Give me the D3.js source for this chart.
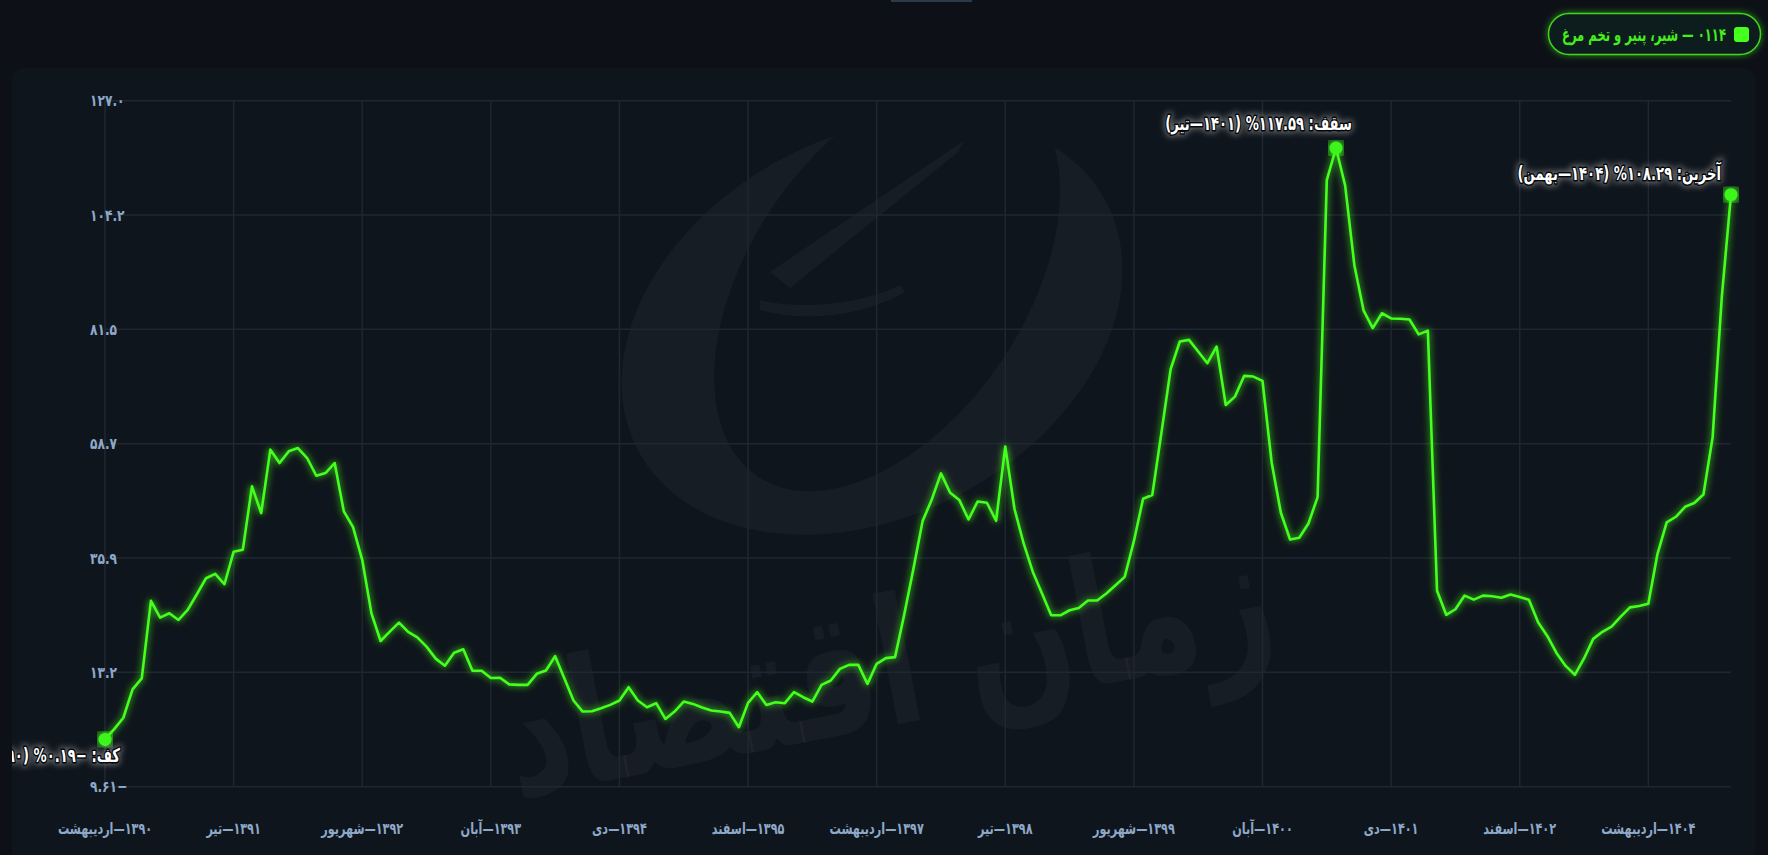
<!DOCTYPE html>
<html lang="fa">
<head>
<meta charset="utf-8">
<script src="https://cdn.jsdelivr.net/npm/d3@7/dist/d3.min.js"></script>
<style>
html, body { margin: 0; padding: 0; background: #0d1117; overflow: hidden; }
svg { display: block; }
text { font-family: "DejaVu Sans Condensed", "DejaVu Sans", sans-serif; font-weight: bold; }
</style>
</head>
<body>
<svg id="chart" width="1768" height="855"></svg>
<script>
// series: 0114 - milk, cheese & eggs, monthly from 1390-Ordibehesht to 1404-Bahman
var seriesName = "۰۱۱۴ — شیر، پنیر و تخم مرغ";
var startYear = 1390, startMonth = 2;
var monthNames = ["فروردین","اردیبهشت","خرداد","تیر","مرداد","شهریور","مهر","آبان","آذر","دی","بهمن","اسفند"];

var values = [
  -0.19, 1.86, 4.12, 9.77, 11.96, 27.39, 24.06, 24.93, 23.60, 25.59,
  28.72, 31.91, 32.77, 30.71, 37.16, 37.56, 50.20, 44.88, 57.51, 54.85,
  57.18, 57.84, 55.85, 52.32, 52.85, 54.85, 45.21, 42.08, 35.57, 24.93,
  19.41, 21.27, 23.07, 21.21, 20.14, 18.28, 15.89, 14.49, 17.08, 17.75,
  13.49, 13.49, 12.03, 12.10, 10.77, 10.67, 10.67, 12.87, 13.53, 16.39,
  12.00, 7.55, 5.35, 5.42, 6.02, 6.68, 7.55, 10.21, 7.55, 6.22,
  7.02, 3.89, 5.35, 7.35, 6.88, 6.15, 5.55, 5.35, 5.09, 2.23,
  7.08, 9.21, 6.68, 7.22, 7.02, 9.21, 8.21, 7.35, 10.67, 11.54,
  13.86, 14.66, 14.66, 10.87, 14.86, 15.99, 16.19, 24.66, 33.77, 43.28,
  47.60, 52.79, 48.93, 47.47, 43.61, 47.20, 46.94, 43.35, 58.11, 45.74,
  38.83, 33.17, 28.85, 24.53, 24.53, 25.53, 25.99, 27.46, 27.46, 28.85,
  30.51, 32.18, 39.29, 47.74, 48.47, 60.90, 73.53, 79.05, 79.38, 77.06,
  74.73, 78.05, 66.42, 68.08, 72.20, 72.07, 71.21, 54.92, 44.94, 39.62,
  39.96, 42.81, 48.07, 111.20, 117.59, 110.10, 94.26, 85.27, 81.73, 84.68,
  83.65, 83.57, 83.43, 80.48, 81.22, 29.41, 24.62, 25.73, 28.45, 27.64,
  28.45, 28.31, 28.01, 28.68, 28.16, 27.64, 23.15, 20.42, 17.03, 14.45,
  12.68, 15.93, 19.83, 21.23, 22.26, 24.25, 26.10, 26.39, 26.83, 36.78,
  43.05, 44.15, 46.14, 46.88, 48.57, 60.00, 88.00, 108.29
];

var xTickIdx = [0, 14, 28, 42, 56, 70, 84, 98, 112, 126, 140, 154, 168];
var xTickLabels = ["۱۳۹۰—اردیبهشت","۱۳۹۱—تیر","۱۳۹۲—شهریور","۱۳۹۳—آبان","۱۳۹۴—دی","۱۳۹۵—اسفند",
  "۱۳۹۷—اردیبهشت","۱۳۹۸—تیر","۱۳۹۹—شهریور","۱۴۰۰—آبان","۱۴۰۱—دی","۱۴۰۲—اسفند","۱۴۰۴—اردیبهشت"];
var yTickLabels = ["۹.۶۱−","۱۳.۲","۳۵.۹","۵۸.۷","۸۱.۵","۱۰۴.۲","۱۲۷.۰"];

var fa = s => String(s).replace(/\d/g, d => "۰۱۲۳۴۵۶۷۸۹"[d]);
function period(i){
  var m = startMonth - 1 + i;
  return fa(startYear + Math.floor(m / 12)) + "—" + monthNames[m % 12];
}
// the reference font is narrower than DejaVu, squeeze texts a bit
function squeeze(sel, k){
  sel.each(function(){
    var w = this.getComputedTextLength();
    d3.select(this).attr("textLength", w * k).attr("lengthAdjust", "spacingAndGlyphs");
  });
}

var svg = d3.select("#chart");
var green = "#45ff1c";

var defs = svg.append("defs");
var glow = defs.append("filter").attr("id", "glow")
  .attr("x", "-10%").attr("y", "-10%").attr("width", "120%").attr("height", "120%");
glow.append("feGaussianBlur").attr("in", "SourceGraphic").attr("stdDeviation", 3.5).attr("result", "b");
var gm = glow.append("feMerge");
gm.append("feMergeNode").attr("in", "b");
gm.append("feMergeNode").attr("in", "SourceGraphic");

var soft = defs.append("filter").attr("id", "soft")
  .attr("x", "-20%").attr("y", "-50%").attr("width", "140%").attr("height", "200%");
soft.append("feGaussianBlur").attr("stdDeviation", 3);

var pillGlow = defs.append("filter").attr("id", "pillglow")
  .attr("x", "-20%").attr("y", "-50%").attr("width", "140%").attr("height", "200%");
pillGlow.append("feGaussianBlur").attr("in", "SourceGraphic").attr("stdDeviation", 3).attr("result", "b");
var pm = pillGlow.append("feMerge");
pm.append("feMergeNode").attr("in", "b");
pm.append("feMergeNode").attr("in", "SourceGraphic");

var mask = defs.append("mask").attr("id", "cres");
mask.append("rect").attr("x", 0).attr("y", 0).attr("width", 1768).attr("height", 855).attr("fill", "white");
mask.append("ellipse").attr("cx", 905).attr("cy", 296).attr("rx", 232).attr("ry", 138)
  .attr("transform", "rotate(-28 905 296)").attr("fill", "black");

defs.append("clipPath").attr("id", "panelclip")
  .append("rect").attr("x", 12).attr("y", 60).attr("width", 1745).attr("height", 800);

// page + panel
svg.append("rect").attr("width", 1768).attr("height", 855).attr("fill", "#0d1117");
svg.append("rect").attr("x", 891).attr("y", 0).attr("width", 81).attr("height", 2).attr("fill", "#2b3a4b");
svg.append("rect").attr("x", 12).attr("y", 68).attr("width", 1743).attr("height", 820)
  .attr("rx", 12).attr("fill", "#0f151c");

// watermark
var wm = svg.append("g").attr("fill", "#ffffff").attr("fill-opacity", 0.035);
wm.append("ellipse").attr("cx", 872).attr("cy", 326).attr("rx", 265).attr("ry", 190)
  .attr("transform", "rotate(-28 872 326)").attr("mask", "url(#cres)");
wm.append("path").attr("d", "M770,272 L965,140 L958,152 L790,288 Z");
wm.append("path").attr("d", "M760,300 C800,310 860,305 900,285 L905,292 C860,318 800,322 760,310 Z");
wm.append("text").attr("x", 890).attr("y", 725).attr("text-anchor", "middle")
  .attr("direction", "rtl").attr("font-size", 175)
  .attr("textLength", 780).attr("lengthAdjust", "spacingAndGlyphs")
  .attr("transform", "rotate(-11 890 680)")
  .text("زمان اقتصاد");

// scales
var n = values.length;
var yMin = d3.min(values), yMax = d3.max(values);
var pad = (yMax - yMin) * 0.08;
var x = d3.scaleLinear().domain([0, n - 1]).range([105, 1731]);
var y = d3.scaleLinear().domain([yMin - pad, yMax + pad]).range([786.7, 100.7]);
var yTicks = d3.range(7).map(i => y.domain()[0] + i * (y.domain()[1] - y.domain()[0]) / 6);

// grid
var grid = svg.append("g").attr("stroke", "#1f2731").attr("stroke-width", 1.5);
grid.selectAll(".hg").data(yTicks).enter().append("line")
  .attr("x1", 105).attr("x2", 1731)
  .attr("y1", d => y(d)).attr("y2", d => y(d));
grid.selectAll(".vg").data(xTickIdx).enter().append("line")
  .attr("x1", d => x(d)).attr("x2", d => x(d))
  .attr("y1", y.range()[1]).attr("y2", y.range()[0]);

// y tick labels
var yl = svg.append("g").selectAll("text").data(yTicks).enter().append("text")
  .attr("x", 90).attr("y", d => y(d)).attr("dy", "0.35em")
  .attr("fill", "#8ea8c8").attr("font-size", 16)
  .text((d, i) => yTickLabels[i]);
squeeze(yl, 0.85);

// x tick labels
var xl = svg.append("g").selectAll("text").data(xTickIdx).enter().append("text")
  .attr("x", d => x(d)).attr("y", 834)
  .attr("text-anchor", "middle").attr("direction", "rtl")
  .attr("fill", "#8ea8c8").attr("font-size", 16)
  .text((d, i) => xTickLabels[i]);
squeeze(xl, 0.78);

// line
var line = d3.line().x((d, i) => x(i)).y(d => y(d));
svg.append("path").datum(values)
  .attr("d", line)
  .attr("fill", "none").attr("stroke", green).attr("stroke-width", 2.6)
  .attr("stroke-linejoin", "round")
  .attr("filter", "url(#glow)");

// marked points
var iMin = d3.minIndex(values), iMax = d3.maxIndex(values), iLast = n - 1;
var marks = [
  {i: iMin, text: "کف: −" + fa(Math.abs(values[iMin]).toFixed(2)) + "% (" + period(iMin) + ")", pos: "below"},
  {i: iMax, text: "سقف: " + fa(values[iMax].toFixed(2)) + "% (" + period(iMax) + ")", pos: "above"},
  {i: iLast, text: "آخرین: " + fa(values[iLast].toFixed(2)) + "% (" + period(iLast) + ")", pos: "left"}
];

var mg = svg.append("g");
mg.selectAll(".sq").data(marks).enter().append("rect")
  .attr("x", d => x(d.i) - 8).attr("y", d => y(values[d.i]) - 8)
  .attr("width", 16).attr("height", 16)
  .attr("fill", green).attr("fill-opacity", 0.22);
mg.selectAll("circle").data(marks).enter().append("circle")
  .attr("cx", d => x(d.i)).attr("cy", d => y(values[d.i])).attr("r", 6.5)
  .attr("fill", "#3ef51f").attr("filter", "url(#glow)");

var lg = svg.append("g").attr("clip-path", "url(#panelclip)");
marks.forEach(function(d){
  var px = x(d.i), py = y(values[d.i]);
  var g = lg.append("g");
  var halo = g.append("text").text(d.text)
    .attr("direction", "rtl").attr("text-anchor", "middle").attr("font-size", 19)
    .attr("fill", "#ffffff").attr("stroke", "#ffffff").attr("stroke-width", 5)
    .attr("opacity", 0.4).attr("filter", "url(#soft)");
  var t = g.append("text").text(d.text)
    .attr("direction", "rtl").attr("text-anchor", "middle").attr("font-size", 19)
    .attr("fill", "#ffffff").attr("stroke", "#05070a").attr("stroke-width", 3)
    .attr("paint-order", "stroke").attr("stroke-linejoin", "round");
  var w = t.node().getComputedTextLength() * 0.77;
  g.selectAll("text").attr("textLength", w).attr("lengthAdjust", "spacingAndGlyphs");
  var tx, ty;
  if (d.pos === "above") { tx = px + 16 - w / 2; ty = py - 18; }
  else if (d.pos === "below") { tx = px + 15 - w / 2; ty = py + 23; }
  else { tx = px - 10 - w / 2; ty = py - 15; }
  g.selectAll("text").attr("x", tx).attr("y", ty);
});

// legend pill
var lgd = svg.append("g");
lgd.append("rect").attr("x", 1548.5).attr("y", 13.5).attr("width", 212).attr("height", 41).attr("rx", 20.5)
  .attr("fill", "#0f1a1c").attr("stroke", "#3fd61c").attr("stroke-width", 1.5)
  .attr("filter", "url(#pillglow)");
lgd.append("rect").attr("x", 1734).attr("y", 27).attr("width", 15).attr("height", 15).attr("rx", 3)
  .attr("fill", green);
var lt = lgd.append("text").text(seriesName)
  .attr("direction", "rtl").attr("text-anchor", "middle")
  .attr("fill", "#45ee1d").attr("font-size", 18).attr("y", 41)
  .attr("textLength", 164).attr("lengthAdjust", "spacingAndGlyphs")
  .attr("x", 1726 - 82);
</script>
</body>
</html>
